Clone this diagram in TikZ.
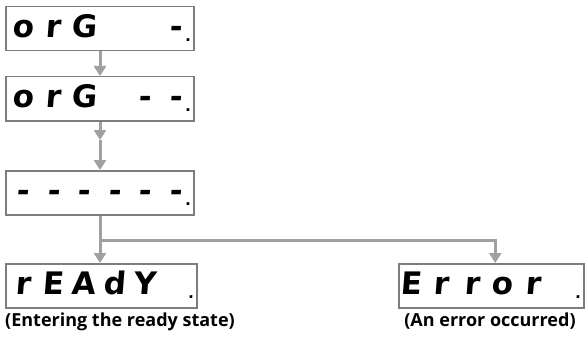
\documentclass[tikz,border=0pt]{standalone}
\usepackage{fontspec}
\newfontfamily\segfont{DejaVu Sans}[FakeSlant=0.08]
\newfontfamily\capfont{Open Sans}
\usetikzlibrary{arrows.meta}
\definecolor{boxgray}{RGB}{125,125,125}
\definecolor{arrgray}{RGB}{160,160,160}
\newcommand\dg[1]{\makebox[30.5pt][c]{#1}}
\newcommand\dpt{\raisebox{-4pt}{\fontsize{15}{15}\selectfont.}}
\newcommand\disp[7]{\makebox[#1][l]{\dg{#2}\dg{#3}\dg{#4}\dg{#5}\dg{#6}\dg{#7}}\llap{\dpt\hspace{1pt}}}
\tikzset{
  dispbox/.style={draw=boxgray, line width=1.5pt, rectangle, anchor=north west,
    inner xsep=2pt, inner ysep=0pt, text height=31pt, text depth=13pt,
    font=\segfont\bfseries\fontsize{31}{31}\selectfont},
  arr/.style={draw=arrgray, line width=3pt, -{Triangle[length=10pt,width=12pt]}},
  captext/.style={font=\capfont\bfseries\fontsize{18}{20}\selectfont, inner sep=0pt}
}
\begin{document}
\begin{tikzpicture}[x=1pt,y=-1pt]
\fill[white] (0,0) rectangle (588,342);
\useasboundingbox (0,0) rectangle (588,342);
\node[dispbox] (b1) at (5,6) {\disp{184pt}{o}{r}{G}{}{}{-}};
\node[dispbox] (b2) at (5,76) {\disp{184pt}{o}{r}{G}{}{-}{-}};
\node[dispbox] (b3) at (5,170) {\disp{184pt}{-}{-}{-}{-}{-}{-}};
\node[dispbox] (b4) at (5,263) {\disp{187pt}{r}{E}{A}{d}{Y}{}};
\node[dispbox] (b5) at (398,263) {\makebox[181pt][l]{\hspace{-5pt}\dg{E}\dg{r}\dg{r}\dg{o}\dg{r}}\llap{\dpt\hspace{1pt}}};
\node[captext, anchor=base west] (c4) at (5,326) {(Entering the ready state)};
\node[captext, anchor=base] (c5) at (490,326) {(An error occurred)};
\coordinate (m) at (100,140);
\coordinate (j) at (100,240);
\draw[arr] (b1.south -| m) -- (b2.north -| m);
\draw[arr] (b2.south -| m) -- (m);
\draw[arr] (m) -- (b3.north -| m);
\draw[arr] (b3.south -| j) -- (j) -- (b4.north -| j);
\draw[arr] (j) -| ([xshift=4pt]b5.north);
\end{tikzpicture}
\end{document}
